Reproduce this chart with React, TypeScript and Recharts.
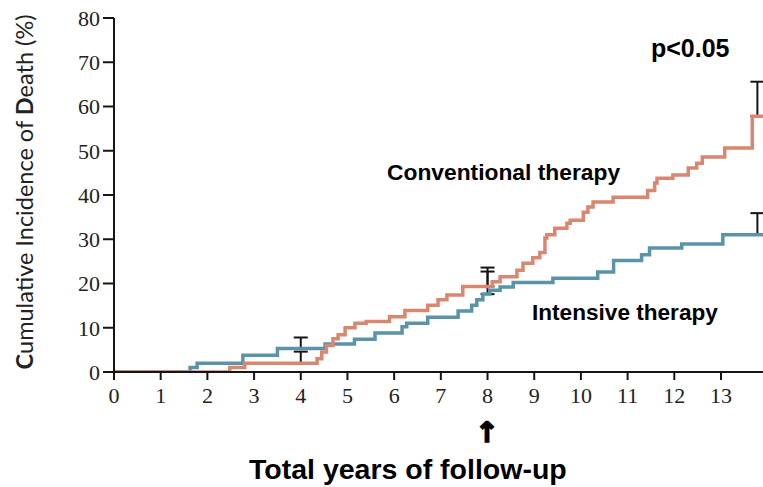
import { ErrorBar, Line, LineChart, XAxis, YAxis } from "recharts";

const yearTicks = [0, 1, 2, 3, 4, 5, 6, 7, 8, 9, 10, 11, 12, 13];
const percentTicks = [0, 10, 20, 30, 40, 50, 60, 70, 80];

// Kaplan-Meier style steps (years, % dead)
const intensiveYears = [0, 1.63, 1.78, 2.76, 3.5, 4.52, 5.15, 5.59, 6.17, 6.27, 6.72, 7.37, 7.66, 7.77, 7.9, 8.05, 8.27, 8.55, 9.4, 10.36, 10.7, 11.3, 11.47, 12.16, 13.04, 13.9];
const intensiveRisk = [0, 1, 2, 3.8, 5.3, 6.3, 7.4, 8.8, 10.2, 11, 12.4, 13.8, 15.1, 16.3, 17.6, 18.5, 19.2, 20.2, 21.2, 22.6, 25.2, 26.5, 28, 28.9, 31, 31];

const conventionalYears = [0, 2.48, 2.8, 4.35, 4.45, 4.55, 4.69, 4.8, 4.95, 5.16, 5.4, 5.9, 6.23, 6.72, 6.94, 7.13, 7.47, 8.1, 8.27, 8.63, 8.76, 8.97, 9.12, 9.23, 9.27, 9.44, 9.7, 9.77, 10.05, 10.15, 10.26, 10.69, 11.43, 11.58, 11.63, 11.97, 12.3, 12.48, 12.6, 13.08, 13.67, 13.9];
const conventionalRisk = [0, 1, 2, 3, 4.5, 6, 7.5, 8.4, 10, 11, 11.4, 12.5, 13.9, 15.1, 16.3, 17.4, 19.3, 20.4, 21.5, 23, 24.6, 25.8, 27, 30.3, 31, 32.5, 33.6, 34.3, 36.1, 37.3, 38.4, 39.5, 41, 42.7, 43.8, 44.5, 46.1, 47.2, 48.6, 50.6, 57.8, 57.8];

// upper confidence limits
const ciYears = [4, 8, 13.78];
const intensiveAtCi = [5.3, 17.6, 31];
const intensiveUpper = [2.5, 5.1, 4.9];
const conventionalAtCi = [2, 19.3, 57.8];
const conventionalUpper = [2.6, 4.3, 7.8];

const intensiveData = intensiveYears.map((x, i) => ({ x, y: intensiveRisk[i] }));
const conventionalData = conventionalYears.map((x, i) => ({ x, y: conventionalRisk[i] }));
const intensiveCi = ciYears.map((x, i) => ({ x, y: intensiveAtCi[i], err: [0, intensiveUpper[i]] }));
const conventionalCi = ciYears.map((x, i) => ({ x, y: conventionalAtCi[i], err: [0, conventionalUpper[i]] }));

const blue = "#5b93a9";
const orange = "#d9876f";
const ink = "#151515";
const tickFont = { fill: "#222", fontSize: 22, fontFamily: "Liberation Serif" };
const boldSans = "Liberation Sans, Arial, sans-serif";

export default function App() {
  return (
    <div style={{ position: "absolute", left: 0, top: 0, width: 763, height: 487, background: "#fff" }}>
      <LineChart width={763} height={487} margin={{ top: 18, right: 0, bottom: 0, left: 0 }}>
        <XAxis
          type="number"
          dataKey="x"
          domain={[0, 13.9]}
          ticks={yearTicks}
          interval={0}
          allowDataOverflow
          height={115}
          tickSize={8}
          tickMargin={7}
          tick={tickFont}
          axisLine={{ stroke: ink, strokeWidth: 2 }}
          tickLine={{ stroke: ink, strokeWidth: 2 }}
        />
        <YAxis
          type="number"
          domain={[0, 80]}
          ticks={percentTicks}
          interval={0}
          allowDataOverflow
          width={114}
          tickSize={11}
          tickMargin={3}
          tick={tickFont}
          axisLine={{ stroke: ink, strokeWidth: 2 }}
          tickLine={{ stroke: ink, strokeWidth: 2 }}
        />
        <Line data={intensiveCi} dataKey="y" stroke="none" dot={false} activeDot={false} isAnimationActive={false}>
          <ErrorBar dataKey="err" direction="y" width={7} stroke={ink} strokeWidth={2} isAnimationActive={false} />
        </Line>
        <Line data={conventionalCi} dataKey="y" stroke="none" dot={false} activeDot={false} isAnimationActive={false}>
          <ErrorBar dataKey="err" direction="y" width={7} stroke={ink} strokeWidth={2} isAnimationActive={false} />
        </Line>
        <Line data={intensiveData} dataKey="y" type="stepAfter" stroke={blue} strokeWidth={3.5} dot={false} activeDot={false} isAnimationActive={false} />
        <Line data={conventionalData} dataKey="y" type="stepAfter" stroke={orange} strokeWidth={3.5} dot={false} activeDot={false} isAnimationActive={false} />
      </LineChart>
      <svg width={763} height={487} style={{ position: "absolute", left: 0, top: 0, pointerEvents: "none" }}>
        <text transform="rotate(-90)" x={-192} y={33} textAnchor="middle" fontFamily="Lato, sans-serif" fontSize={23.5} fill="#222">
          <tspan fontWeight="bold">C</tspan>umulative Incidence of <tspan fontWeight="bold">D</tspan>eath (%)
        </text>
        <text x={651} y={57} fontFamily={boldSans} fontWeight="bold" fontSize={25} fill="#000">p&lt;0.05</text>
        <text x={387} y={180} fontFamily={boldSans} fontWeight="bold" fontSize={22.8} fill="#000">Conventional therapy</text>
        <text x={532} y={320} fontFamily={boldSans} fontWeight="bold" fontSize={22.6} fill="#000">Intensive therapy</text>
        <text x={487} y={442} textAnchor="middle" fontFamily="DejaVu Sans" fontWeight="bold" fontSize={28} fill="#000" stroke="#000" strokeWidth={1.6}>↑</text>
        <text x={249} y={479} fontFamily={boldSans} fontWeight="bold" fontSize={28.5} fill="#000">Total years of follow-up</text>
      </svg>
    </div>
  );
}
